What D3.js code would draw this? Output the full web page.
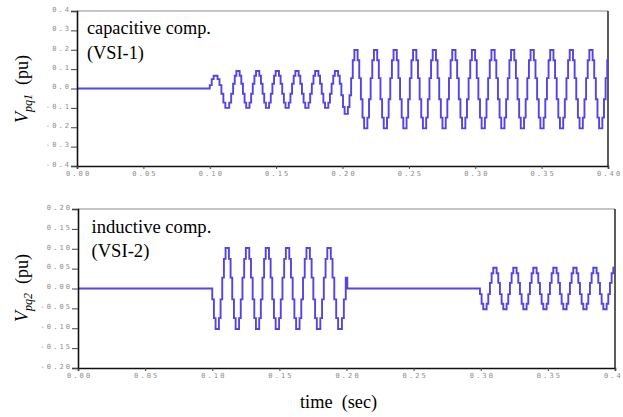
<!DOCTYPE html>
<html><head><meta charset="utf-8">
<script src="https://cdn.jsdelivr.net/npm/d3@7"></script>
<style>
html,body{margin:0;padding:0;background:#fff;}
svg{display:block;}
.tick text{font-family:"DejaVu Sans Mono",monospace;font-size:7px;fill:#8c8c8c;letter-spacing:2.1px;}
</style></head>
<body>
<svg id="chart" width="623" height="417"></svg>
<script>
// ---------- data ----------
const xTicks = [0.00, 0.05, 0.10, 0.15, 0.20, 0.25, 0.30, 0.35, 0.40];
const xTickLabels = ["0.00","0.05","0.10","0.15","0.20","0.25","0.30","0.35","0.40"];
const topYTicks = [0.4, 0.3, 0.2, 0.1, 0.0, -0.1, -0.2, -0.3, -0.4];
const topYTickLabels = ["0.4","0.3","0.2","0.1","0.0","-0.1","-0.2","-0.3","-0.4"];
const botYTicks = [0.20, 0.15, 0.10, 0.05, 0.00, -0.05, -0.10, -0.15, -0.20];
const botYTickLabels = ["0.20","0.15","0.10","0.05","0.00","-0.05","-0.10","-0.15","-0.20"];

// staircase levels of one cycle (12 held samples, fraction of the cycle amplitude)
const stepLevels = [0.26, 0.71, 0.97, 0.97, 0.71, 0.26, -0.26, -0.71, -0.97, -0.97, -0.71, -0.26];

// VSI-1 (capacitive): cycle start times (upward crossings), positive / negative amplitudes
const vsi1Starts = [0.1000, 0.1176, 0.1324, 0.1472, 0.1620, 0.1769, 0.1918,
                    0.2065, 0.2212, 0.2360, 0.2507, 0.2655, 0.2802, 0.2950,
                    0.3097, 0.3245, 0.3392, 0.3540, 0.3687, 0.3835, 0.3982, 0.4130];
const vsi1PosAmp = [0.068, 0.093, 0.093, 0.093, 0.093, 0.093, 0.093,
                    0.205, 0.205, 0.205, 0.205, 0.205, 0.205, 0.205,
                    0.205, 0.205, 0.205, 0.205, 0.205, 0.205, 0.205];
const vsi1NegAmp = [0.103, 0.103, 0.103, 0.103, 0.103, 0.103, 0.135,
                    0.212, 0.212, 0.212, 0.212, 0.212, 0.212, 0.212,
                    0.212, 0.212, 0.212, 0.212, 0.212, 0.212, 0.212];
const vsi1End = 0.40;

// VSI-2 (inductive): cycles start with the negative half (downward crossings)
const vsi2aStarts = [0.1000, 0.1149, 0.1301, 0.1447, 0.1599, 0.1753, 0.1909, 0.2080];
const vsi2aAmp    = [0.105, 0.105, 0.105, 0.105, 0.105, 0.105, 0.105];
const vsi2aEnd = 0.2006;
const vsi2bStarts = [0.2994, 0.3143, 0.3292, 0.3441, 0.3590, 0.3739, 0.3888, 0.4037];
const vsi2bAmp    = [0.054, 0.054, 0.054, 0.054, 0.054, 0.054, 0.054];
const vsi2bEnd = 0.40;

// ---------- build step points ----------
function addCycles(pts, starts, levelFn, end) {
  let last = 0;
  for (let i = 0; i < starts.length - 1; i++) {
    const t0 = starts[i], dt = (starts[i + 1] - t0) / 12;
    for (let k = 0; k < 12; k++) {
      const t = t0 + k * dt;
      if (t >= end) break;
      last = levelFn(i, k);
      pts.push([t, last]);
    }
  }
  return last;
}
const vsi1Pts = [[0, 0]];
const l1 = addCycles(vsi1Pts, vsi1Starts,
  (i, k) => stepLevels[k] >= 0 ? stepLevels[k] * vsi1PosAmp[i] : stepLevels[k] * vsi1NegAmp[i], vsi1End);
vsi1Pts.push([vsi1End, l1]);

const vsi2Pts = [[0, 0]];
addCycles(vsi2Pts, vsi2aStarts, (i, k) => -stepLevels[k] * vsi2aAmp[i], vsi2aEnd);
vsi2Pts.push([vsi2aEnd, 0]);
const l2 = addCycles(vsi2Pts, vsi2bStarts, (i, k) => -stepLevels[k] * vsi2bAmp[i], vsi2bEnd);
vsi2Pts.push([vsi2bEnd, l2]);

// ---------- drawing ----------
const svg = d3.select("#chart");
svg.append("rect").attr("width", 623).attr("height", 417).attr("fill", "#fff");

function panel(cfg) {
  const x = d3.scaleLinear().domain([0, 0.4]).range([cfg.left, cfg.right]);
  const y = d3.scaleLinear().domain(cfg.yDomain).range([cfg.bottom, cfg.top]);
  const g = svg.append("g");
  g.append("line").attr("x1", cfg.left).attr("x2", cfg.right).attr("y1", cfg.top).attr("y2", cfg.top)
    .attr("stroke", "#8c8c8c").attr("stroke-width", 1);
  g.append("line").attr("x1", cfg.right).attr("x2", cfg.right).attr("y1", cfg.top).attr("y2", cfg.bottom)
    .attr("stroke", "#333").attr("stroke-width", 1.6);
  g.append("path").datum(cfg.pts)
    .attr("d", d3.line().x(d => x(d[0])).y(d => y(d[1])).curve(d3.curveStepAfter))
    .attr("fill", "none").attr("stroke", "#5444e2").attr("stroke-width", 1.9)
    .attr("stroke-linejoin", "miter");
  const ya = g.append("g").attr("transform", `translate(${cfg.left},0)`)
    .call(d3.axisLeft(y).tickValues(cfg.yTicks).tickFormat((d, i) => cfg.yLabels[i]).tickSize(6).tickPadding(1));
  ya.selectAll("text").attr("dy", "0.05em").attr("dx", "1.1px");
  const xa = g.append("g").attr("transform", `translate(0,${cfg.bottom})`)
    .call(d3.axisBottom(x).tickValues(xTicks).tickFormat((d, i) => xTickLabels[i]).tickSize(3).tickPadding(cfg.xPad));
  xa.selectAll("text").attr("dx", "1.1px");
  [ya, xa].forEach(a => {
    a.select(".domain").attr("stroke", "#111").attr("stroke-width", 1.6);
    a.selectAll(".tick line").attr("stroke", "#444").attr("stroke-width", 1);
  });
  const t = g.append("text").attr("font-family", "'Liberation Serif','Times New Roman',serif")
    .attr("font-size", cfg.fs).attr("fill", "#000");
  t.append("tspan").attr("x", cfg.noteX).attr("y", cfg.noteY1).text(cfg.note1);
  t.append("tspan").attr("x", cfg.noteX).attr("y", cfg.noteY2).text(cfg.note2);
  const yl = g.append("text").attr("transform", `translate(${cfg.ylabX},${cfg.ylabY}) rotate(-90)`)
    .attr("text-anchor", "middle").attr("font-family", "'Liberation Serif','Times New Roman',serif")
    .attr("font-size", 18).attr("fill", "#000");
  yl.append("tspan").attr("font-style", "italic").text("V");
  yl.append("tspan").attr("font-style", "italic").attr("font-size", 12).attr("dy", 4).text(cfg.sub);
  yl.append("tspan").attr("dy", -4).text("\u00a0 (pu)");
}

panel({left: 77, right: 608, top: 11, bottom: 166, yDomain: [-0.4, 0.4], pts: vsi1Pts,
  yTicks: topYTicks, yLabels: topYTickLabels, xPad: 2,
  note1: "capacitive comp.", note2: "(VSI-1)", noteX: 87, noteY1: 34, noteY2: 58.5, fs: 18.3,
  ylabX: 28, ylabY: 89, sub: "pq1"});
panel({left: 78, right: 615, top: 209, bottom: 368, yDomain: [-0.2, 0.2], pts: vsi2Pts,
  yTicks: botYTicks, yLabels: botYTickLabels, xPad: 2.5,
  note1: "inductive comp.", note2: "(VSI-2)", noteX: 91.5, noteY1: 233, noteY2: 256.5, fs: 18.6,
  ylabX: 28, ylabY: 288, sub: "pq2"});

svg.append("text").attr("x", 300).attr("y", 408)
  .attr("font-family", "'Liberation Serif','Times New Roman',serif").attr("font-size", 18.3)
  .attr("xml:space", "preserve").text("time  (sec)");
</script>
</body></html>
